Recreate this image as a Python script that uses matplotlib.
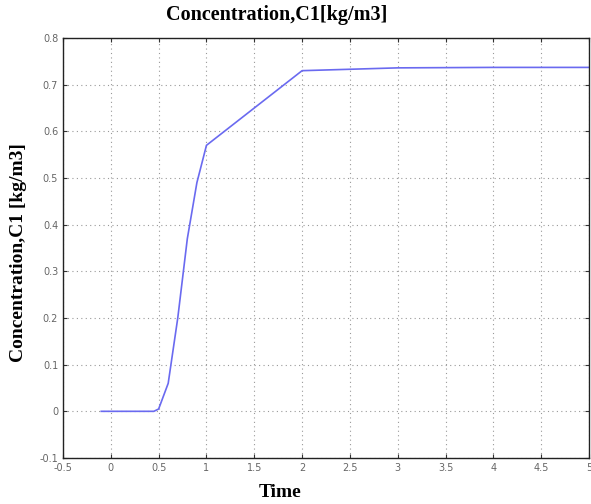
import matplotlib
matplotlib.use('Agg')
import matplotlib.pyplot as plt
import numpy as np

# datos
time = [-0.1, 0.45, 0.5, 0.6, 0.7, 0.8, 0.9, 1.0, 2.0, 2.5, 3.0, 4.0, 5.0]
conc = [0.0, 0.0, 0.005, 0.06, 0.20, 0.37, 0.49, 0.57, 0.730, 0.733, 0.736, 0.737, 0.737]
xticks = [-0.5, 0, 0.5, 1, 1.5, 2, 2.5, 3, 3.5, 4, 4.5, 5]
yticks = [-0.1, 0, 0.1, 0.2, 0.3, 0.4, 0.5, 0.6, 0.7, 0.8]

fig = plt.figure(figsize=(5.91, 5.04), dpi=100)
ax = fig.add_axes([0.1066, 0.0913, 0.89, 0.8333])

ax.plot(time, conc, color='#6a6af0', linewidth=1.2)

ax.set_xlim(-0.5, 5)
ax.set_ylim(-0.1, 0.8)
ax.set_xticks(xticks)
ax.set_xticklabels([f'{t:g}' for t in xticks])
ax.set_yticks(yticks)
ax.set_yticklabels([f'{t:g}' for t in yticks])
ax.tick_params(direction='in', length=3, labelsize=7, labelcolor='#666666',
               top=True, right=True, color='#333333')
ax.grid(True, linestyle=(0, (1, 3)), color='#999999', linewidth=0.8)
for s in ax.spines.values():
    s.set_color('#222222')
    s.set_linewidth(1.0)

serif = ['Liberation Serif', 'DejaVu Serif']
ax.text(0.407, 1.055, 'Concentration,C1[kg/m3]', transform=ax.transAxes,
        ha='center', va='center', fontfamily=serif, fontweight='bold', fontsize=14.5)
ax.set_xlabel('Time', fontfamily=serif, fontweight='bold', fontsize=14)
ax.xaxis.set_label_coords(0.413, -0.062)
ax.set_ylabel('Concentration,C1 [kg/m3]', fontfamily=serif, fontweight='bold',
              fontsize=14)
ax.yaxis.set_label_coords(-0.068, 0.488)

fig.savefig('out.png', dpi=100)
